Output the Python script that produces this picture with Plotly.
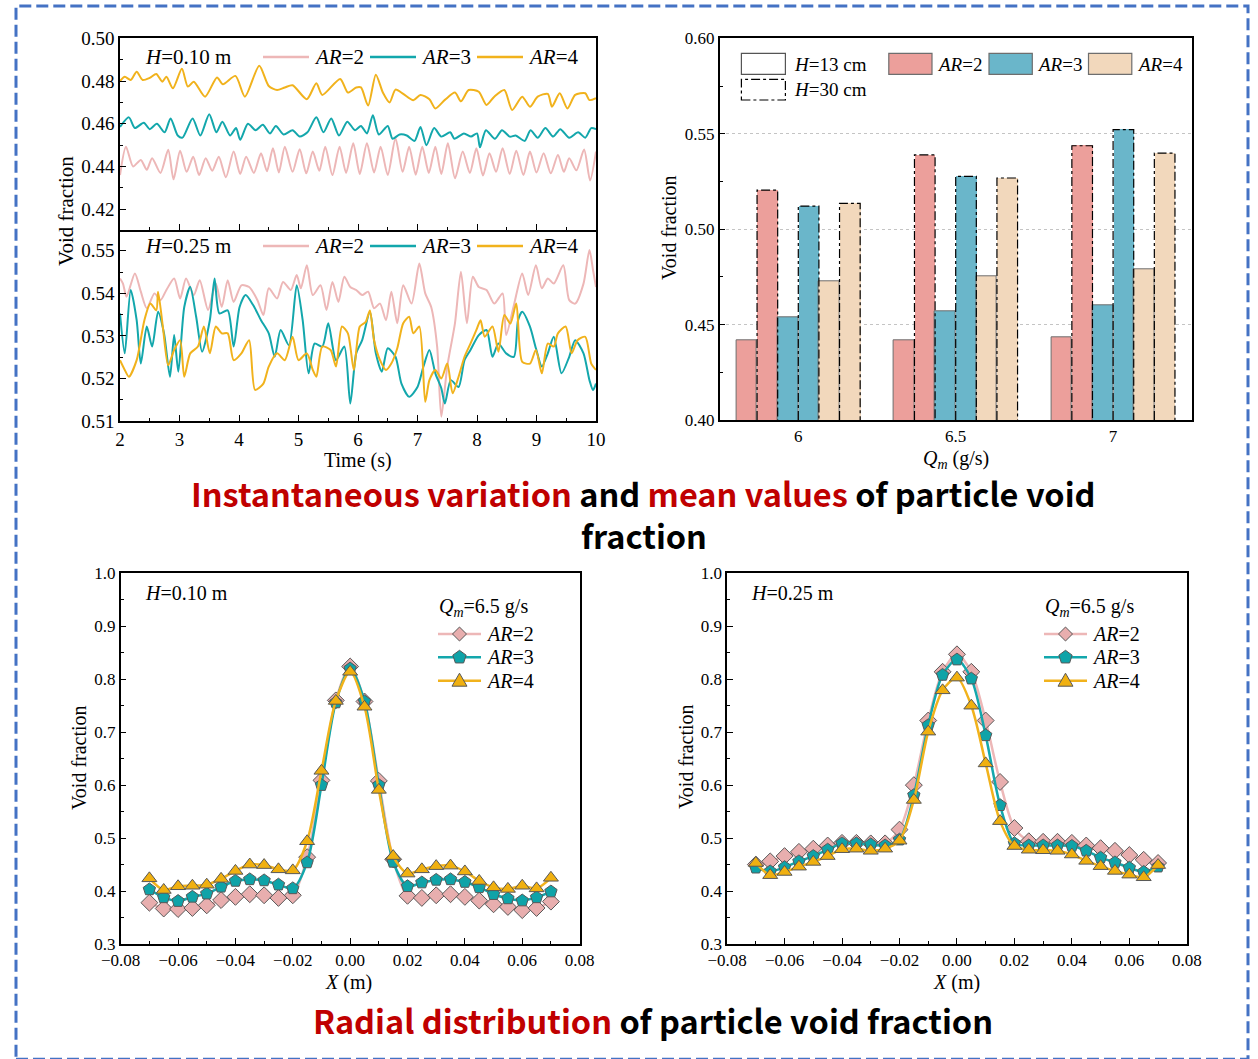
import math
import plotly.graph_objects as go

# ---------------------------------------------------------------------------
# Figure geometry (pixels) and fonts
# ---------------------------------------------------------------------------
W, H = 1258, 1059
SERIF = "Liberation Serif"
SANS = "Noto Sans CJK SC"

LINE_AR2, LINE_AR3, LINE_AR4 = "#EDB7B7", "#13A7AC", "#F1B21C"
MARK_AR2, MARK_AR3, MARK_AR4 = "#E8AEAE", "#0FA3A8", "#F0B010"
BAR_AR2, BAR_AR3, BAR_AR4 = "#EC9F9B", "#6AB6CA", "#F2D8BC"
MARK_EDGE = "#585858"
TITLE_RED = "#C00000"

# ---------------------------------------------------------------------------
# Instantaneous void fraction, H = 0.10 m
# ---------------------------------------------------------------------------
T10_AR2 = [2.00, 2.10, 2.22, 2.35, 2.45, 2.54, 2.68, 2.81, 2.90, 3.01, 3.12, 3.23, 3.33, 3.44,
           3.55, 3.66, 3.78, 3.91, 4.02, 4.12, 4.25, 4.37, 4.47, 4.57, 4.67, 4.77, 4.90, 5.02,
           5.13, 5.24, 5.35, 5.45, 5.57, 5.69, 5.80, 5.92, 6.03, 6.15, 6.27, 6.38, 6.50, 6.63,
           6.75, 6.86, 6.97, 7.08, 7.19, 7.30, 7.40, 7.51, 7.63, 7.76, 7.88, 7.99, 8.10, 8.21,
           8.32, 8.43, 8.55, 8.66, 8.78, 8.89, 9.00, 9.12, 9.24, 9.36, 9.46, 9.55, 9.67, 9.80,
           9.90, 10.00]
V10_AR2 = [0.4360, 0.4493, 0.4400, 0.4431, 0.4385, 0.4439, 0.4370, 0.4478, 0.4340, 0.4474,
           0.4375, 0.4446, 0.4360, 0.4439, 0.4380, 0.4446, 0.4350, 0.4470, 0.4365, 0.4446,
           0.4370, 0.4462, 0.4378, 0.4485, 0.4372, 0.4493, 0.4375, 0.4481, 0.4368, 0.4470,
           0.4380, 0.4493, 0.4360, 0.4493, 0.4370, 0.4509, 0.4365, 0.4509, 0.4372, 0.4493,
           0.4360, 0.4532, 0.4375, 0.4493, 0.4362, 0.4493, 0.4370, 0.4493, 0.4365, 0.4509,
           0.4345, 0.4470, 0.4370, 0.4485, 0.4358, 0.4462, 0.4375, 0.4485, 0.4365, 0.4474,
           0.4360, 0.4470, 0.4372, 0.4462, 0.4368, 0.4454, 0.4375, 0.4439, 0.4382, 0.4480,
           0.4335, 0.4470]

T10_AR3 = [2.00, 2.15, 2.25, 2.40, 2.50, 2.62, 2.75, 2.85, 2.97, 3.05, 3.22, 3.35, 3.50, 3.62,
           3.72, 3.85, 3.95, 4.02, 4.15, 4.28, 4.40, 4.52, 4.62, 4.75, 4.90, 5.02, 5.15, 5.30,
           5.42, 5.55, 5.68, 5.82, 5.95, 6.05, 6.15, 6.25, 6.35, 6.50, 6.58, 6.70, 6.82, 6.95,
           7.05, 7.15, 7.28, 7.40, 7.55, 7.62, 7.78, 7.90, 8.00, 8.05, 8.15, 8.30, 8.42, 8.55,
           8.65, 8.80, 8.90, 9.02, 9.15, 9.28, 9.40, 9.55, 9.70, 9.82, 9.92, 10.00]
V10_AR3 = [0.4585, 0.4630, 0.4580, 0.4605, 0.4575, 0.4600, 0.4560, 0.4625, 0.4545, 0.4535,
           0.4625, 0.4545, 0.4645, 0.4560, 0.4610, 0.4545, 0.4580, 0.4525, 0.4600, 0.4570,
           0.4595, 0.4555, 0.4590, 0.4550, 0.4570, 0.4540, 0.4560, 0.4630, 0.4560, 0.4625,
           0.4545, 0.4610, 0.4570, 0.4590, 0.4555, 0.4640, 0.4550, 0.4590, 0.4530, 0.4550,
           0.4545, 0.4520, 0.4585, 0.4500, 0.4580, 0.4540, 0.4560, 0.4530, 0.4555, 0.4540,
           0.4555, 0.4490, 0.4570, 0.4530, 0.4570, 0.4540, 0.4545, 0.4520, 0.4570, 0.4535,
           0.4580, 0.4540, 0.4575, 0.4535, 0.4560, 0.4535, 0.4580, 0.4575]

T10_AR4 = [2.00, 2.08, 2.18, 2.28, 2.38, 2.50, 2.61, 2.71, 2.78, 2.89, 3.04, 3.14, 3.24, 3.43,
           3.63, 3.73, 3.94, 4.10, 4.34, 4.50, 4.64, 4.77, 4.90, 5.14, 5.30, 5.40, 5.70, 5.83,
           5.97, 6.05, 6.17, 6.30, 6.42, 6.53, 6.63, 6.76, 6.93, 7.05, 7.20, 7.30, 7.46, 7.63,
           7.73, 7.86, 8.03, 8.16, 8.29, 8.46, 8.59, 8.76, 8.89, 9.02, 9.19, 9.26, 9.39, 9.52,
           9.65, 9.82, 9.89, 10.00]
V10_AR4 = [0.4800, 0.4820, 0.4805, 0.4844, 0.4805, 0.4815, 0.4833, 0.4797, 0.4820, 0.4766,
           0.4857, 0.4774, 0.4797, 0.4727, 0.4817, 0.4785, 0.4824, 0.4727, 0.4872, 0.4777,
           0.4758, 0.4770, 0.4780, 0.4715, 0.4790, 0.4735, 0.4810, 0.4746, 0.4770, 0.4770,
           0.4685, 0.4830, 0.4745, 0.4700, 0.4760, 0.4740, 0.4710, 0.4735, 0.4715, 0.4672,
           0.4712, 0.4746, 0.4705, 0.4758, 0.4750, 0.4688, 0.4727, 0.4758, 0.4665, 0.4727,
           0.4680, 0.4727, 0.4740, 0.4680, 0.4743, 0.4672, 0.4735, 0.4743, 0.4711, 0.4720]

# ---------------------------------------------------------------------------
# Instantaneous void fraction, H = 0.25 m
# ---------------------------------------------------------------------------
T25_AR2 = [2.00, 2.05, 2.11, 2.25, 2.35, 2.45, 2.58, 2.68, 2.78, 2.91, 3.01, 3.11, 3.24, 3.34,
           3.48, 3.61, 3.71, 3.81, 3.91, 4.04, 4.17, 4.31, 4.41, 4.50, 4.64, 4.74, 4.87, 4.97,
           5.04, 5.14, 5.24, 5.37, 5.47, 5.57, 5.67, 5.77, 5.87, 5.97, 6.07, 6.17, 6.27, 6.37,
           6.47, 6.56, 6.66, 6.76, 6.90, 7.03, 7.13, 7.23, 7.33, 7.40, 7.50, 7.63, 7.73, 7.83,
           7.93, 8.03, 8.16, 8.29, 8.43, 8.49, 8.62, 8.76, 8.86, 8.99, 9.09, 9.19, 9.29, 9.45,
           9.55, 9.65, 9.79, 9.89, 9.95, 10.00]
V25_AR2 = [0.5435, 0.5423, 0.5392, 0.5447, 0.5404, 0.5365, 0.5400, 0.5384, 0.5408, 0.5435,
           0.5388, 0.5435, 0.5396, 0.5431, 0.5361, 0.5423, 0.5368, 0.5431, 0.5380, 0.5419,
           0.5415, 0.5384, 0.5349, 0.5412, 0.5388, 0.5427, 0.5408, 0.5443, 0.5412, 0.5466,
           0.5396, 0.5419, 0.5361, 0.5427, 0.5380, 0.5439, 0.5415, 0.5408, 0.5396, 0.5404,
           0.5365, 0.5376, 0.5337, 0.5404, 0.5330, 0.5419, 0.5376, 0.5470, 0.5400, 0.5368,
           0.5275, 0.5110, 0.5228, 0.5330, 0.5451, 0.5330, 0.5439, 0.5415, 0.5408, 0.5376,
           0.5400, 0.5302, 0.5372, 0.5447, 0.5396, 0.5466, 0.5412, 0.5435, 0.5423, 0.5466,
           0.5384, 0.5376, 0.5423, 0.5502, 0.5455, 0.5415]

T25_AR3 = [2.00, 2.08, 2.18, 2.28, 2.35, 2.45, 2.54, 2.64, 2.74, 2.84, 2.91, 2.98, 3.08, 3.18,
           3.28, 3.38, 3.51, 3.59, 3.67, 3.81, 3.91, 4.01, 4.11, 4.24, 4.37, 4.50, 4.60, 4.70,
           4.84, 4.97, 5.07, 5.17, 5.27, 5.40, 5.50, 5.63, 5.77, 5.87, 5.97, 6.07, 6.20, 6.30,
           6.40, 6.50, 6.63, 6.73, 6.86, 7.00, 7.10, 7.20, 7.30, 7.40, 7.46, 7.56, 7.69, 7.79,
           7.89, 8.03, 8.16, 8.26, 8.36, 8.49, 8.62, 8.69, 8.76, 8.89, 8.99, 9.09, 9.19, 9.29,
           9.42, 9.55, 9.65, 9.79, 9.89, 9.95, 10.00]
V25_AR3 = [0.5353, 0.5259, 0.5408, 0.5337, 0.5235, 0.5322, 0.5275, 0.5357, 0.5306, 0.5204,
           0.5302, 0.5216, 0.5368, 0.5415, 0.5345, 0.5263, 0.5337, 0.5435, 0.5353, 0.5360,
           0.5275, 0.5368, 0.5396, 0.5372, 0.5337, 0.5306, 0.5251, 0.5314, 0.5278, 0.5419,
           0.5337, 0.5212, 0.5282, 0.5275, 0.5330, 0.5243, 0.5275, 0.5141, 0.5259, 0.5290,
           0.5357, 0.5259, 0.5216, 0.5271, 0.5251, 0.5188, 0.5157, 0.5180, 0.5228, 0.5267,
           0.5212, 0.5177, 0.5141, 0.5196, 0.5180, 0.5243, 0.5267, 0.5302, 0.5314, 0.5251,
           0.5282, 0.5259, 0.5251, 0.5337, 0.5357, 0.5322, 0.5271, 0.5228, 0.5259, 0.5298,
           0.5212, 0.5251, 0.5290, 0.5259, 0.5196, 0.5173, 0.5188]

T25_AR4 = [2.00, 2.08, 2.15, 2.28, 2.41, 2.51, 2.61, 2.64, 2.72, 2.81, 2.91, 3.01, 3.08, 3.18,
           3.31, 3.41, 3.51, 3.61, 3.71, 3.81, 3.91, 4.04, 4.17, 4.27, 4.41, 4.50, 4.64, 4.77,
           4.90, 5.00, 5.14, 5.24, 5.30, 5.40, 5.54, 5.63, 5.73, 5.83, 5.93, 6.03, 6.13, 6.20,
           6.27, 6.37, 6.47, 6.56, 6.66, 6.76, 6.86, 6.93, 7.03, 7.13, 7.20, 7.30, 7.40, 7.50,
           7.59, 7.69, 7.79, 7.89, 7.99, 8.06, 8.13, 8.26, 8.36, 8.46, 8.56, 8.66, 8.76, 8.89,
           8.99, 9.09, 9.19, 9.29, 9.36, 9.49, 9.59, 9.69, 9.82, 9.92, 10.00]
V25_AR4 = [0.5243, 0.5220, 0.5204, 0.5243, 0.5337, 0.5376, 0.5360, 0.5404, 0.5322, 0.5231,
           0.5267, 0.5290, 0.5204, 0.5259, 0.5275, 0.5322, 0.5259, 0.5322, 0.5306, 0.5306,
           0.5243, 0.5259, 0.5290, 0.5173, 0.5188, 0.5228, 0.5259, 0.5243, 0.5298, 0.5243,
           0.5259, 0.5220, 0.5204, 0.5275, 0.5267, 0.5228, 0.5322, 0.5306, 0.5220, 0.5322,
           0.5333, 0.5360, 0.5290, 0.5243, 0.5220, 0.5235, 0.5271, 0.5330, 0.5345, 0.5306,
           0.5322, 0.5145, 0.5196, 0.5220, 0.5200, 0.5235, 0.5165, 0.5204, 0.5251, 0.5282,
           0.5314, 0.5337, 0.5298, 0.5322, 0.5263, 0.5349, 0.5329, 0.5376, 0.5239, 0.5235,
           0.5267, 0.5212, 0.5282, 0.5275, 0.5306, 0.5322, 0.5259, 0.5290, 0.5298, 0.5235,
           0.5220]

# ---------------------------------------------------------------------------
# Mean void fraction vs. mass flow rate
# ---------------------------------------------------------------------------
QM_LABELS = ["6", "6.5", "7"]
H13_AR2 = [0.4418, 0.4416, 0.4432]
H30_AR2 = [0.5205, 0.5389, 0.5437]
H13_AR3 = [0.4537, 0.4570, 0.4603]
H30_AR3 = [0.5121, 0.5277, 0.5521]
H13_AR4 = [0.4726, 0.4751, 0.4791]
H30_AR4 = [0.5135, 0.5268, 0.5398]

# ---------------------------------------------------------------------------
# Radial distribution, Qm = 6.5 g/s
# ---------------------------------------------------------------------------
X_POS = [-0.070, -0.065, -0.060, -0.055, -0.050, -0.045, -0.040, -0.035, -0.030, -0.025,
         -0.020, -0.015, -0.010, -0.005, 0.000, 0.005, 0.010, 0.015, 0.020, 0.025, 0.030,
         0.035, 0.040, 0.045, 0.050, 0.055, 0.060, 0.065, 0.070]

R10_AR2 = [0.378, 0.367, 0.366, 0.368, 0.373, 0.383, 0.389, 0.394, 0.392, 0.387, 0.392,
           0.464, 0.609, 0.760, 0.824, 0.758, 0.608, 0.460,
           0.391, 0.387, 0.392, 0.394, 0.389, 0.382, 0.375, 0.370, 0.364, 0.368, 0.380]
R10_AR3 = [0.403, 0.388, 0.381, 0.389, 0.395, 0.408, 0.419, 0.422, 0.420, 0.412, 0.405,
           0.454, 0.600, 0.756, 0.820, 0.758, 0.600, 0.455,
           0.409, 0.416, 0.421, 0.422, 0.417, 0.407, 0.394, 0.386, 0.382, 0.388, 0.399]
R10_AR4 = [0.424, 0.402, 0.409, 0.410, 0.412, 0.423, 0.438, 0.450, 0.449, 0.441, 0.439,
           0.494, 0.627, 0.759, 0.814, 0.748, 0.591, 0.466,
           0.433, 0.441, 0.447, 0.448, 0.437, 0.419, 0.407, 0.404, 0.410, 0.405, 0.425]

R25_AR2 = [0.450, 0.456, 0.466, 0.474, 0.480, 0.486, 0.491, 0.491, 0.490, 0.490, 0.516,
           0.600, 0.722, 0.814, 0.847, 0.814, 0.722, 0.606,
           0.519, 0.494, 0.493, 0.493, 0.491, 0.486, 0.481, 0.476, 0.468, 0.459, 0.453]
R25_AR3 = [0.444, 0.437, 0.445, 0.456, 0.466, 0.478, 0.490, 0.490, 0.488, 0.486, 0.497,
           0.581, 0.713, 0.808, 0.837, 0.801, 0.694, 0.562,
           0.490, 0.486, 0.486, 0.486, 0.485, 0.476, 0.463, 0.454, 0.444, 0.436, 0.446]
R25_AR4 = [0.453, 0.430, 0.436, 0.446, 0.455, 0.466, 0.479, 0.480, 0.476, 0.480, 0.495,
           0.572, 0.701, 0.779, 0.803, 0.750, 0.641, 0.532,
           0.485, 0.478, 0.477, 0.476, 0.469, 0.457, 0.447, 0.438, 0.431, 0.426, 0.449]


# ---------------------------------------------------------------------------
# Helpers: pixel -> paper fraction (margins are zero, so paper == page)
# ---------------------------------------------------------------------------
def fx(x):
    return x / W


def fy(y):
    return 1 - y / H


def dom_x(left, right):
    return [fx(left), fx(right)]


def dom_y(top, bottom):
    return [fy(bottom), fy(top)]


fig = go.Figure()

# ---- time series panels -----------------------------------------------------
for t, v, c in [(T10_AR2, V10_AR2, LINE_AR2), (T10_AR3, V10_AR3, LINE_AR3), (T10_AR4, V10_AR4, LINE_AR4)]:
    fig.add_trace(go.Scatter(x=t, y=v, mode="lines", xaxis="x", yaxis="y", showlegend=False,
                             line=dict(color=c, width=2, shape="spline", smoothing=0.7)))
for t, v, c in [(T25_AR2, V25_AR2, LINE_AR2), (T25_AR3, V25_AR3, LINE_AR3), (T25_AR4, V25_AR4, LINE_AR4)]:
    fig.add_trace(go.Scatter(x=t, y=v, mode="lines", xaxis="x2", yaxis="y2", showlegend=False,
                             line=dict(color=c, width=2, shape="spline", smoothing=0.7)))

# ---- grouped bars -----------------------------------------------------------
BW = 0.131
Y3_RANGE = [0.40, 0.60]
cat_idx = list(range(len(QM_LABELS)))
bar_series = [
    (H13_AR2, BAR_AR2, False), (H30_AR2, BAR_AR2, True),
    (H13_AR3, BAR_AR3, False), (H30_AR3, BAR_AR3, True),
    (H13_AR4, BAR_AR4, False), (H30_AR4, BAR_AR4, True),
]
for k, (vals, col, dashed) in enumerate(bar_series):
    off = -3 * BW + k * BW
    fig.add_trace(go.Bar(
        x=cat_idx, y=vals, width=BW, offset=off, xaxis="x3", yaxis="y3", showlegend=False,
        marker=dict(color=col, line=dict(color="#6E6E6E", width=0 if dashed else 1)),
    ))
    if dashed:
        ox, oy = [], []
        for i, v in zip(cat_idx, vals):
            x0, x1 = i + off, i + off + BW
            ox += [x0, x0, x1, x1, None]
            oy += [Y3_RANGE[0], v, v, Y3_RANGE[0], None]
        fig.add_trace(go.Scatter(x=ox, y=oy, mode="lines", xaxis="x3", yaxis="y3", showlegend=False,
                                 line=dict(color="black", width=1.2, dash="dashdot")))

# ---- radial profiles --------------------------------------------------------
radial = [
    ("x4", "y4", [R10_AR2, R10_AR3, R10_AR4]),
    ("x5", "y5", [R25_AR2, R25_AR3, R25_AR4]),
]
styles = [
    (LINE_AR2, MARK_AR2, "diamond", 13),
    (LINE_AR3, MARK_AR3, "pentagon", 13),
    (LINE_AR4, MARK_AR4, "triangle-up", 13),
]
for xa, ya, series in radial:
    for vals, (lc, mc, sym, sz) in zip(series, styles):
        fig.add_trace(go.Scatter(
            x=X_POS, y=vals, mode="lines+markers", xaxis=xa, yaxis=ya, showlegend=False,
            line=dict(color=lc, width=2.5, shape="spline", smoothing=0.8),
            marker=dict(symbol=sym, size=sz, color=mc, line=dict(color=MARK_EDGE, width=1)),
        ))

# ---------------------------------------------------------------------------
# Axes
# ---------------------------------------------------------------------------
AX = dict(showline=True, linecolor="black", linewidth=1.5, mirror=True, ticks="inside",
          tickcolor="black", ticklen=6, tickwidth=1.2, showgrid=False, zeroline=False,
          tickfont=dict(family=SERIF, size=19, color="black"))
MINOR = dict(ticks="inside", ticklen=3.5, tickcolor="black", tickwidth=1, showgrid=False)
F17 = dict(family=SERIF, size=17, color="black")

ts_x = dom_x(120, 596)
fig.update_layout(
    xaxis=dict(AX, domain=ts_x, anchor="y", range=[2, 10], dtick=1, showticklabels=False,
               minor=dict(MINOR, dtick=0.5)),
    yaxis=dict(AX, domain=dom_y(38.3, 230), anchor="x", range=[0.4103, 0.50], dtick=0.02,
               tick0=0.40, tickformat=".2f", minor=dict(MINOR, dtick=0.01)),
    # the upper panel's bottom line doubles as the lower panel's top edge
    xaxis2=dict(AX, domain=ts_x, anchor="y2", range=[2, 10], dtick=1, mirror=False,
                minor=dict(MINOR, dtick=0.5)),
    yaxis2=dict(AX, domain=dom_y(230, 421), anchor="x2", range=[0.51, 0.5549], dtick=0.01,
                tick0=0.51, tickformat=".2f", minor=dict(MINOR, dtick=0.005)),
    xaxis3=dict(AX, domain=dom_x(719.6, 1191.8), anchor="y3", range=[-0.5, 2.5], ticks="",
                tickvals=cat_idx, ticktext=QM_LABELS, tickfont=F17),
    yaxis3=dict(AX, domain=dom_y(38.3, 420), anchor="x3", range=Y3_RANGE, dtick=0.05, tick0=0.40,
                tickformat=".2f", showgrid=True, gridcolor="#C4C4C4", gridwidth=1, griddash="dot",
                tickfont=F17, minor=dict(MINOR, dtick=0.025)),
    xaxis4=dict(AX, domain=dom_x(120.7, 579.6), anchor="y4", range=[-0.08, 0.08], dtick=0.02,
                tickformat=".2f", tickfont=F17, minor=dict(MINOR, dtick=0.01)),
    yaxis4=dict(AX, domain=dom_y(573.3, 944), anchor="x4", range=[0.3, 1.0], dtick=0.1,
                tickformat=".1f", tickfont=F17, minor=dict(MINOR, dtick=0.05)),
    xaxis5=dict(AX, domain=dom_x(727.1, 1186.8), anchor="y5", range=[-0.08, 0.08], dtick=0.02,
                tickformat=".2f", tickfont=F17, minor=dict(MINOR, dtick=0.01)),
    yaxis5=dict(AX, domain=dom_y(573.3, 944), anchor="x5", range=[0.3, 1.0], dtick=0.1,
                tickformat=".1f", tickfont=F17, minor=dict(MINOR, dtick=0.05)),
)

# ---------------------------------------------------------------------------
# Text, legends, frame
# ---------------------------------------------------------------------------
annotations = []
shapes = []


def label(text, x, y, size=20, anchor="center", angle=0, family=SERIF, color="black"):
    annotations.append(dict(text=text, x=fx(x), y=fy(y), xref="paper", yref="paper",
                            xanchor=anchor, yanchor="middle", showarrow=False, textangle=angle,
                            borderpad=0, font=dict(family=family, size=size, color=color)))


def hline(x0, x1, y, color, width):
    shapes.append(dict(type="line", xref="paper", yref="paper", x0=fx(x0), x1=fx(x1),
                       y0=fy(y), y1=fy(y), line=dict(color=color, width=width)))


def glyph(kind, cx, cy, fill):
    # legend marker outline, built in pixel space then mapped to paper space
    if kind == "diamond":
        pts = [(0, -7), (7, 0), (0, 7), (-7, 0)]
    elif kind == "pentagon":
        pts = [(7 * math.cos(math.radians(-90 + 72 * k)), 7 * math.sin(math.radians(-90 + 72 * k)))
               for k in range(5)]
    else:
        pts = [(0, -7.5), (7.5, 5.5), (-7.5, 5.5)]
    path = "M " + " L ".join("%.5f,%.5f" % (fx(cx + dx), fy(cy + dy)) for dx, dy in pts) + " Z"
    shapes.append(dict(type="path", xref="paper", yref="paper", path=path, fillcolor=fill,
                       line=dict(color=MARK_EDGE, width=1)))


# time-series legends (one row per panel)
for row_y, htxt in [(57, "<i>H</i>=0.10 m"), (246, "<i>H</i>=0.25 m")]:
    label(htxt, 144, row_y, size=21, anchor="left")
    for x0, col, name in [(263, LINE_AR2, "2"), (370, LINE_AR3, "3"), (477, LINE_AR4, "4")]:
        hline(x0, x0 + 46, row_y, col, 2.5)
        label("<i>AR</i>=" + name, x0 + 50, row_y, size=21, anchor="left")

# bar chart legend
for (x0, x1, y0, y1, fill, dash, lc) in [
    (741.4, 785.4, 53.3, 74.3, "white", "solid", "#555555"),
    (741.4, 785.4, 79.3, 100.0, "white", "dashdot", "black"),
    (888.8, 932.0, 53.3, 74.3, BAR_AR2, "solid", "#6E6E6E"),
    (989.0, 1032.3, 53.3, 74.3, BAR_AR3, "solid", "#6E6E6E"),
    (1088.5, 1131.8, 53.3, 74.3, BAR_AR4, "solid", "#6E6E6E"),
]:
    shapes.append(dict(type="rect", xref="paper", yref="paper", x0=fx(x0), x1=fx(x1),
                       y0=fy(y1), y1=fy(y0), fillcolor=fill, line=dict(color=lc, width=1.2, dash=dash)))
label("<i>H</i>=13 cm", 793, 64, size=19, anchor="left")
label("<i>H</i>=30 cm", 793, 90, size=19, anchor="left")
label("<i>AR</i>=2", 936, 64, size=19, anchor="left")
label("<i>AR</i>=3", 1036, 64, size=19, anchor="left")
label("<i>AR</i>=4", 1136, 64, size=19, anchor="left")

# radial-profile legends
for left in (438, 1044):
    label("<i>Q</i><sub><i>m</i></sub>=6.5 g/s", left, 607, size=20, anchor="left")
    for row_y, (lc, mc, sym, _) in zip((634, 657.3, 680.7), styles):
        hline(left, left + 43, row_y, lc, 2.5)
        glyph(sym, left + 21.5, row_y, mc)
    for row_y, name in zip((634, 657.3, 680.7), ("2", "3", "4")):
        label("<i>AR</i>=" + name, left + 47, row_y, size=20, anchor="left")

# axis titles
label("Void fraction", 66, 211, size=21, angle=-90)
label("Time (s)", 358, 461, size=20)
label("Void fraction", 669, 228, size=20, angle=-90)
label("<i>Q</i><sub><i>m</i></sub> (g/s)", 956, 459, size=20)
label("Void fraction", 79, 757, size=20, angle=-90)
label("<i>X</i> (m)", 349, 982, size=20)
label("Void fraction", 686, 757, size=20, angle=-90)
label("<i>X</i> (m)", 956, 982, size=20)

# in-plot panel labels of the radial profiles
label("<i>H</i>=0.10 m", 144, 593, size=20, anchor="left")
label("<i>H</i>=0.25 m", 750, 593, size=20, anchor="left")

# section headings
red = lambda s: "<span style='color:%s'>%s</span>" % (TITLE_RED, s)
label("<b>" + red("Instantaneous variation") + " and " + red("mean values")
      + " of particle void</b>", 643.5, 493, size=32.5, family=SANS)
label("<b>fraction</b>", 643.5, 534, size=32.5, family=SANS)
label("<b>" + red("Radial distribution") + " of particle void fraction</b>", 652.7, 1019,
      size=32.5, family=SANS)

# dashed outer frame
shapes.append(dict(type="rect", xref="paper", yref="paper", x0=fx(16), x1=fx(1248),
                   y0=fy(1059.3), y1=fy(6), line=dict(color="#4472C4", width=3, dash="12px,5px")))

fig.update_layout(
    width=W, height=H, autosize=False,
    margin=dict(l=0, r=0, t=0, b=0, pad=0, autoexpand=False),
    paper_bgcolor="white", plot_bgcolor="white",
    barmode="overlay", bargap=0, showlegend=False,
    annotations=annotations, shapes=shapes,
    font=dict(family=SERIF, color="black"),
)

fig.write_html("out.html")
